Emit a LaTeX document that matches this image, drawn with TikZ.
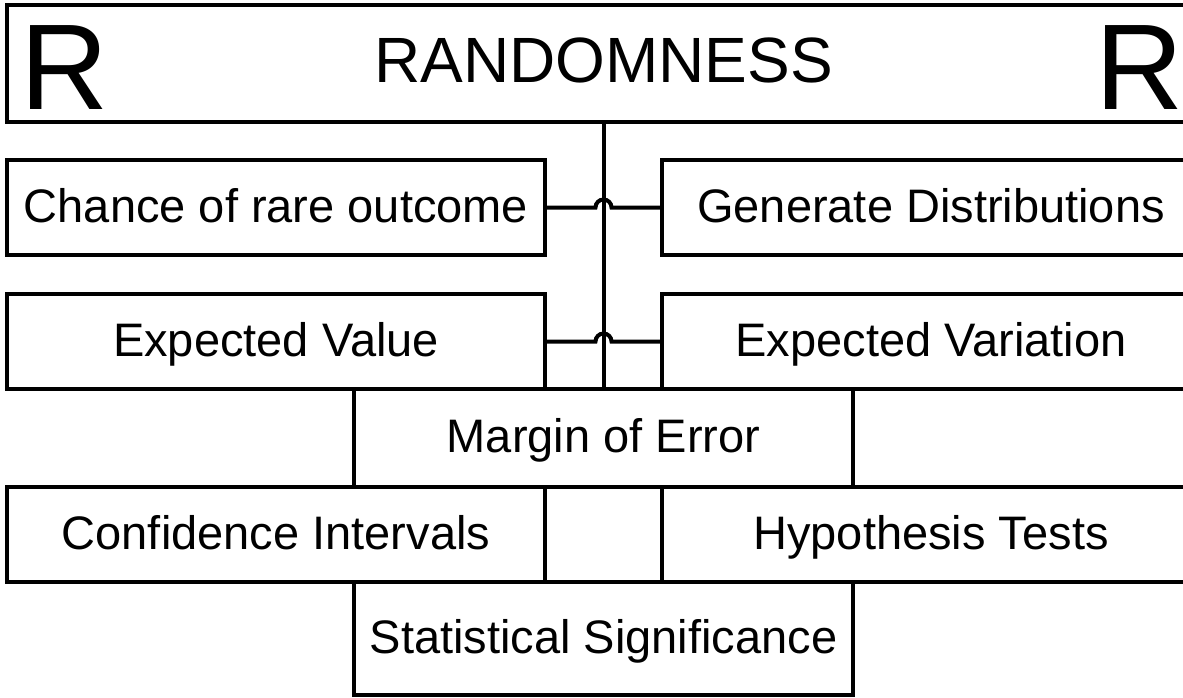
\documentclass[tikz,border=0pt]{standalone}
\usepackage{fontspec}
\setmainfont{Liberation Sans}
\usetikzlibrary{calc}
\begin{document}
\begin{tikzpicture}[x=1pt,y=-1pt,
  box/.style={draw=black, line width=4pt, rectangle, inner sep=0pt, outer sep=0pt,
    fill=white, font=\fontsize{47}{50}\selectfont, line join=miter,
    text height=34pt, text depth=5pt},
  sidebox/.style={box, minimum width=538pt, minimum height=95pt},
  midbox/.style={box, minimum width=499pt},
  link/.style={draw=black, line width=4pt},
  bigR/.style={inner sep=0pt, outer sep=0pt, anchor=base, font=\fontsize{122}{122}\selectfont}]
\useasboundingbox (0,0) rectangle (1183,698);
\clip (0,0) rectangle (1183,698);
\fill[white] (0,0) rectangle (1183,698);
% top banner
\node[box, minimum width=1193pt, minimum height=117pt, font=\fontsize{64}{66}\selectfont,
  text height=46pt, text depth=7pt] (rand) at (603.5,63.5) {RANDOMNESS};
\node[bigR] (rl) at (65,110) {R};
\node[bigR] (rr) at (1140,110) {R};
% rows
\node[sidebox] (chance) at (276,207.5) {Chance of rare outcome};
\node[sidebox] (gen) at (931,207.5) {Generate Distributions};
\node[sidebox] (ev) at (276,341.5) {Expected Value};
\node[sidebox] (evar) at (931,341.5) {Expected Variation};
\node[midbox, minimum height=98pt] (moe) at (603.5,438) {Margin of Error};
\node[sidebox] (ci) at (276,534.5) {Confidence Intervals};
\node[sidebox] (ht) at (931,534.5) {Hypothesis Tests};
\node[midbox, minimum height=113pt] (ss) at (603.5,638.5) {Statistical Significance};
% spine
\draw[link] (rand.south) -- (moe.north);
% jump-over connectors
\draw[link] (chance.east) -- ($(chance.east -| rand.south)+(-8pt,0)$)
  arc[start angle=180, end angle=0, radius=8pt] -- (gen.west);
\draw[link] (ev.east) -- ($(ev.east -| rand.south)+(-8pt,0)$)
  arc[start angle=180, end angle=0, radius=8pt] -- (evar.west);
\end{tikzpicture}
\end{document}
